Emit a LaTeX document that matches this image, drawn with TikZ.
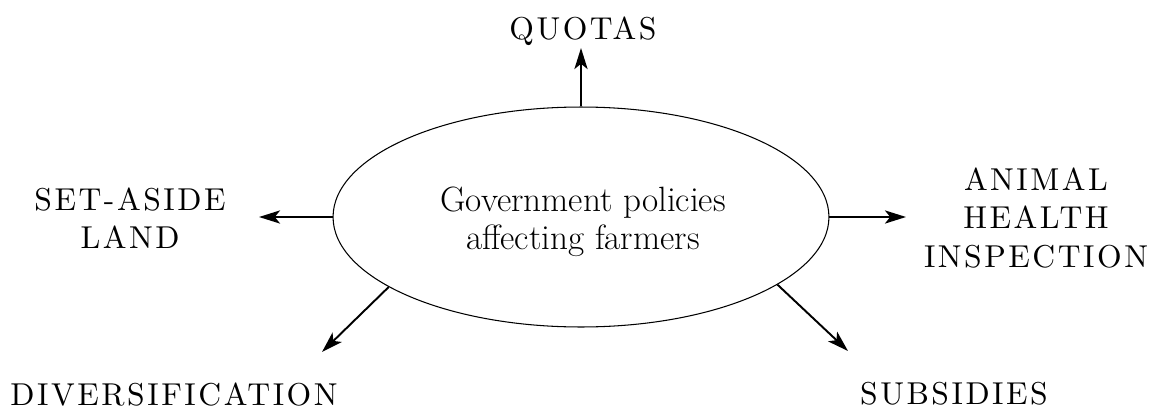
\documentclass[tikz,border=0pt]{standalone}
\usepackage{fontspec}
\newfontfamily\policyfont{lmroman10-regular.otf}[LetterSpace=8]
\usepackage{tikz}
\usetikzlibrary{arrows.meta, positioning, calc, shapes.geometric}

\tikzset{
  policy/.style={align=center, inner sep=0pt,
    font=\policyfont\fontsize{18}{21.8}\selectfont},
  effect/.style={-{Stealth[length=12pt, width=7.5pt, inset=3pt]}, line width=1.1pt}
}

\begin{document}
\begin{tikzpicture}[x=0.02cm, y=-0.02cm]
    \useasboundingbox (0,0) rectangle (1149,409);

    % central ellipse
    \node[
      ellipse,
      draw,
      line width=0.6pt,
      minimum width=9.92cm,
      minimum height=4.4cm,
      inner sep=0pt
    ] (gov) at (581,217) {};
    \node[align=center, inner sep=0pt, font=\fontsize{20}{21.5}\selectfont]
      (govtext) at (583,222) {Government policies\\affecting farmers};

    % policy labels
    \node[policy, anchor=base] (quotas) at (583,39) {QUOTAS};
    \node[policy] (setaside) at (130,218) {SET-ASIDE\\LAND};
    \node[policy] (animal) at (1036,218) {ANIMAL\\HEALTH\\INSPECTION};
    \node[policy, anchor=base] (divers) at (174,405) {DIVERSIFICATION};
    \node[policy, anchor=base] (subsid) at (954,404) {SUBSIDIES};

    % arrow ends
    \coordinate (quotasend) at (581,48);
    \coordinate (setasideend) at (259,217);
    \coordinate (animalend) at (906,217);
    \coordinate (diversend) at (322,352);
    \coordinate (subsidend) at (848,351);

    \draw[effect] (gov.north) -- (quotasend);
    \draw[effect] (gov.west) -- (setasideend);
    \draw[effect] (gov.east) -- (animalend);
    \draw[effect] (gov.200) -- (diversend);
    \draw[effect] (gov.341) -- (subsidend);
\end{tikzpicture}
\end{document}
